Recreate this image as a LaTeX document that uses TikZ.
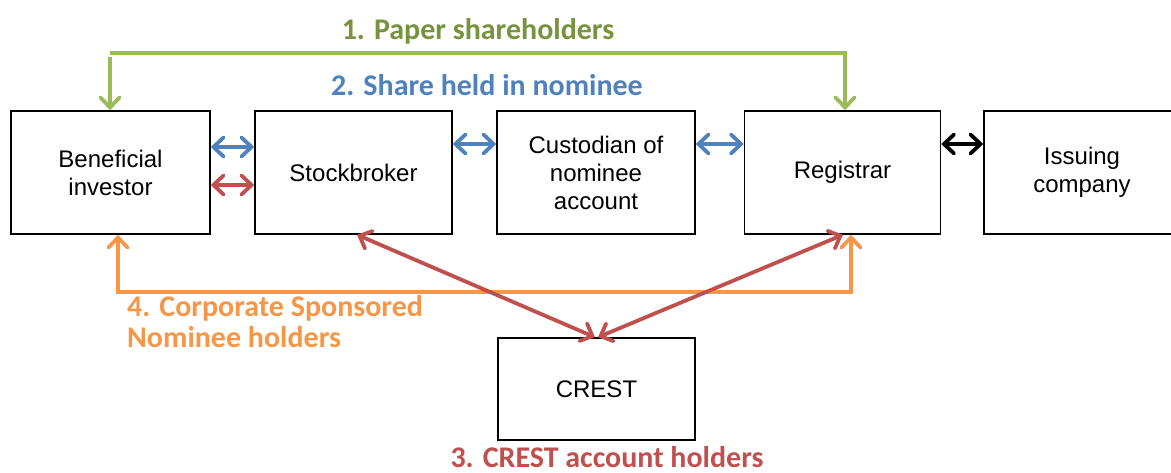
\documentclass[tikz,border=0pt]{standalone}
\usepackage{fontspec}
\setmainfont{Liberation Sans}
\newfontfamily\labfont{Carlito}
\usetikzlibrary{arrows.meta,calc}
\definecolor{cgreen}{HTML}{9BBB59}
\definecolor{cgreentext}{HTML}{77933C}
\definecolor{cblue}{HTML}{4F81BD}
\definecolor{cred}{HTML}{C0504D}
\definecolor{corange}{HTML}{F79646}
\begin{document}
\begin{tikzpicture}[x=1pt,y=-1pt,
  box/.style={draw=black,line width=1.5pt,minimum height=123pt,align=center,
    font=\fontsize{24}{28}\selectfont,inner sep=0pt},
  conn/.style={line width=3.8pt,{Straight Barb[length=10pt,width=19pt,line cap=round]}-{Straight Barb[length=10pt,width=19pt,line cap=round]}},
  oneway/.style={line width=3.8pt,-{Straight Barb[length=10pt,width=19pt,line cap=round]}},
  lab/.style={font=\labfont\bfseries\fontsize{30}{31}\selectfont,inner sep=0pt}]
\useasboundingbox (0,0) rectangle (1171,473);
% boxes
\node[box,minimum width=199pt] (bi) at (110.5,172.5) {Beneficial\\investor};
\node[box,minimum width=197pt] (sb) at (353.5,172.5) {Stockbroker};
\node[box,minimum width=198pt] (cu) at (596,172.5) {Custodian of\\nominee\\account};
\node[box,minimum width=196pt] (rg) at (842.5,172.5) {Registrar};
\node[box,minimum width=196pt] (ic) at (1082,172.5) {Issuing\\company};
\node[box,minimum width=197pt,minimum height=102pt] (cr) at (596.5,389) {CREST};
% labels
\node[lab,text=cgreentext] (l1) at (478,31) {1. Paper shareholders};
\node[lab,text=cblue] (l2) at (487,85) {2. Share held in nominee};
\node[lab,text=corange,align=left,anchor=north west] (l4) at (127,295) {4. Corporate Sponsored\\Nominee holders};
\node[lab,text=cred] (l3) at (607,457) {3. CREST account holders};
% green
\coordinate (g1) at (110,53);
\coordinate (g2) at (845,53);
\draw[cgreen,oneway] (g1) -- (g2) -- (rg.north -| g2);
\draw[cgreen,oneway] ([yshift=-4pt]g1) -- (bi.north -| g1);
% horizontal connectors
\draw[cblue,conn] ([yshift=25.5pt]bi.east) -- ([yshift=25.5pt]sb.west);
\draw[cred,conn] ([yshift=-12.5pt]bi.east) -- ([yshift=-12.5pt]sb.west);
\draw[cblue,conn] ([yshift=28.5pt]sb.east) -- ([yshift=28.5pt]cu.west);
\draw[cblue,conn] ([yshift=28.5pt]cu.east) -- ([yshift=28.5pt]rg.west);
\draw[black,conn] ([yshift=28.5pt]rg.east) -- ([yshift=28.5pt]ic.west);
% orange
\coordinate (oy) at (0,292);
\coordinate (oa) at ([xshift=7.5pt]bi.south);
\coordinate (ob) at ([xshift=8.5pt]rg.south);
\draw[corange,conn] (oa) -- (oa |- oy) -- (ob |- oy) -- (ob);
% red diagonals
\draw[cred,conn] ([xshift=3.5pt]sb.south) -- ([xshift=-1.5pt]cr.north);
\draw[cred,conn] ([xshift=0.5pt]rg.south) -- ([xshift=1.5pt]cr.north);
\end{tikzpicture}
\end{document}
